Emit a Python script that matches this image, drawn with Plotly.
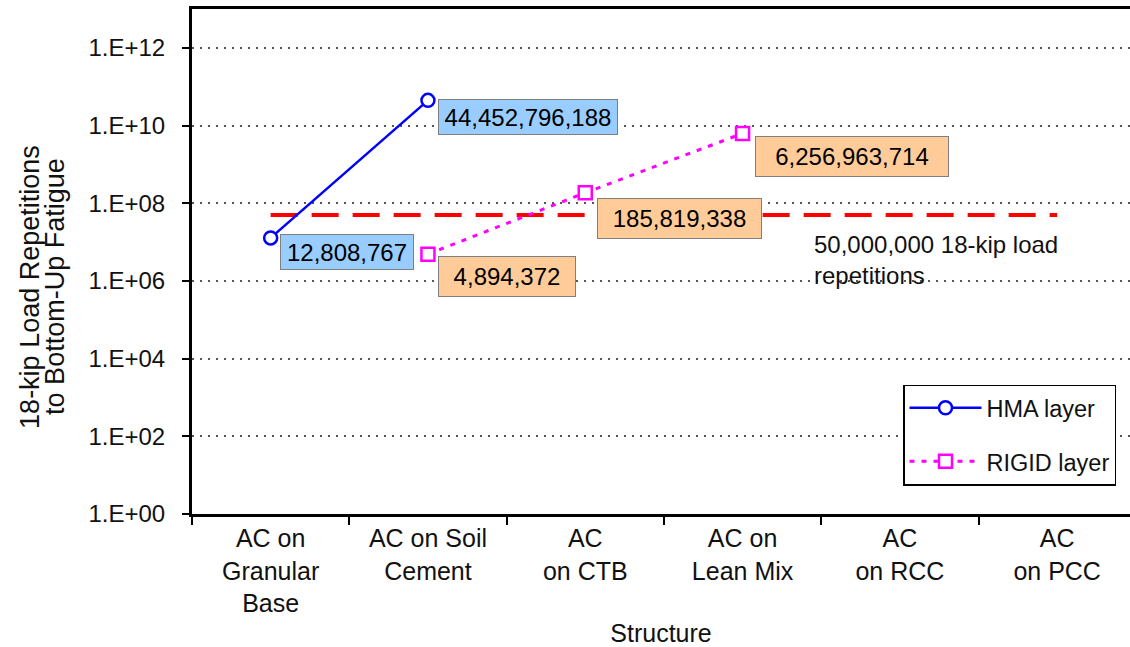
import math
import plotly.graph_objects as go

# Pavement structures on the x axis
structures = [
    "AC on<br>Granular<br>Base",
    "AC on Soil<br>Cement",
    "AC<br>on CTB",
    "AC on<br>Lean Mix",
    "AC<br>on RCC",
    "AC<br>on PCC",
]

# Bottom-up fatigue repetitions per layer type
hma_structures = structures[0:2]
hma_reps = [12808767, 44452796188]

rigid_structures = structures[1:4]
rigid_reps = [4894372, 185819338, 6256963714]

# Design traffic target
target_reps = 50000000
target_label = "50,000,000 18-kip load<br>repetitions"

y_tickvals = [1, 1e2, 1e4, 1e6, 1e8, 1e10, 1e12]
y_ticktext = ["1.E+00", "1.E+02", "1.E+04", "1.E+06", "1.E+08", "1.E+10", "1.E+12"]

FONT = "Arial, Liberation Sans, sans-serif"
BLUE = "#0000FF"
MAGENTA = "#FF00FF"
BLUE_BOX = "#99CCFF"
ORANGE_BOX = "#FFCC99"

# page geometry (px)
W, H = 1130, 647
L, T, B = 192, 9, 131
plot_w = W - L
plot_h = H - T - B
cat_w = 157.3

fig = go.Figure()

fig.add_trace(go.Scatter(
    x=structures, y=[target_reps] * len(structures),
    mode="lines", line=dict(color="#FF0000", width=4, dash="27px,14px"),
    showlegend=False, hoverinfo="skip",
))

fig.add_trace(go.Scatter(
    x=hma_structures, y=hma_reps, name="HMA layer", legendgroup="hma",
    mode="lines+markers",
    line=dict(color=BLUE, width=2.5),
    marker=dict(symbol="circle", size=13, color="white",
                line=dict(color=BLUE, width=2.5)),
))

fig.add_trace(go.Scatter(
    x=rigid_structures, y=rigid_reps, name="RIGID layer", legendgroup="rigid",
    mode="lines+markers",
    line=dict(color=MAGENTA, width=3, dash="5px,7px"),
    marker=dict(symbol="square", size=13, color="white",
                line=dict(color=MAGENTA, width=2.5)),
))

# value callouts: (structure, value, box colour, box width, box height, xshift, yshift)
callouts = [
    (hma_structures[0], hma_reps[0], BLUE_BOX, 126, 28, 9, -14),
    (hma_structures[1], hma_reps[1], BLUE_BOX, 172, 28, 10, -17),
    (rigid_structures[0], rigid_reps[0], ORANGE_BOX, 130, 33, 10, -22),
    (rigid_structures[1], rigid_reps[1], ORANGE_BOX, 157, 33, 12, -26),
    (rigid_structures[2], rigid_reps[2], ORANGE_BOX, 186, 33, 12, -23),
]
for cat, val, col, bw, bh, dx, dy in callouts:
    fig.add_annotation(
        x=cat, y=math.log10(val), text=f"{val:,}", showarrow=False,
        xanchor="left", yanchor="middle", xshift=dx, yshift=dy,
        width=bw, height=bh, align="center", valign="middle",
        bgcolor=col, bordercolor="#7F7F7F", borderwidth=1, borderpad=3,
        font=dict(family=FONT, size=24, color="black"),
    )

fig.add_annotation(
    xref="paper", x=(812 - L) / plot_w, y=math.log10(target_reps),
    text=target_label, showarrow=False, xanchor="left", yanchor="top",
    yshift=-14, align="left",
    font=dict(family=FONT, size=24, color="#111111"),
)

# two-line rotated y-axis title
for line, px in [("18-kip Load Repetitions", 30), ("to Bottom-Up Fatigue", 55)]:
    fig.add_annotation(
        xref="paper", yref="paper", x=(px - L) / plot_w, y=(H - B - 288) / plot_h,
        text=line, textangle=-90, showarrow=False,
        xanchor="center", yanchor="middle",
        font=dict(family=FONT, size=27, color="#111111"),
    )

fig.update_layout(
    width=W, height=H,
    margin=dict(l=L, r=0, t=T, b=B, pad=0),
    paper_bgcolor="white", plot_bgcolor="white",
    font=dict(family=FONT, size=24, color="#111111"),
    showlegend=True,
    legend=dict(
        x=(903 - L) / plot_w, y=(H - B - 386) / plot_h,
        xanchor="left", yanchor="top",
        bgcolor="white", bordercolor="black", borderwidth=1.5,
        font=dict(family=FONT, size=23.5, color="#111111"),
        itemwidth=72, tracegroupgap=20,
    ),
    xaxis=dict(
        type="category", categoryorder="array", categoryarray=structures,
        range=[-0.5, -0.5 + plot_w / cat_w],
        showline=True, linecolor="black", linewidth=3, mirror=True,
        ticks="outside", tickson="boundaries", ticklen=8, tickwidth=2,
        tickcolor="black", showgrid=False, zeroline=False,
        tickfont=dict(family=FONT, size=25, color="#111111"),
        title=dict(text="Structure", standoff=12,
                   font=dict(family=FONT, size=25, color="#111111")),
    ),
    yaxis=dict(
        type="log", range=[0, 13],
        tickvals=y_tickvals, ticktext=y_ticktext,
        showline=True, linecolor="black", linewidth=3,
        ticks="outside", ticklen=7, tickwidth=2, tickcolor="black",
        ticklabelstandoff=12,
        showgrid=True, gridcolor="#555555", gridwidth=1.5, griddash="2px,6px",
        zeroline=False,
        tickfont=dict(family=FONT, size=24, color="#111111"),
    ),
)

fig.write_html("out.html")
